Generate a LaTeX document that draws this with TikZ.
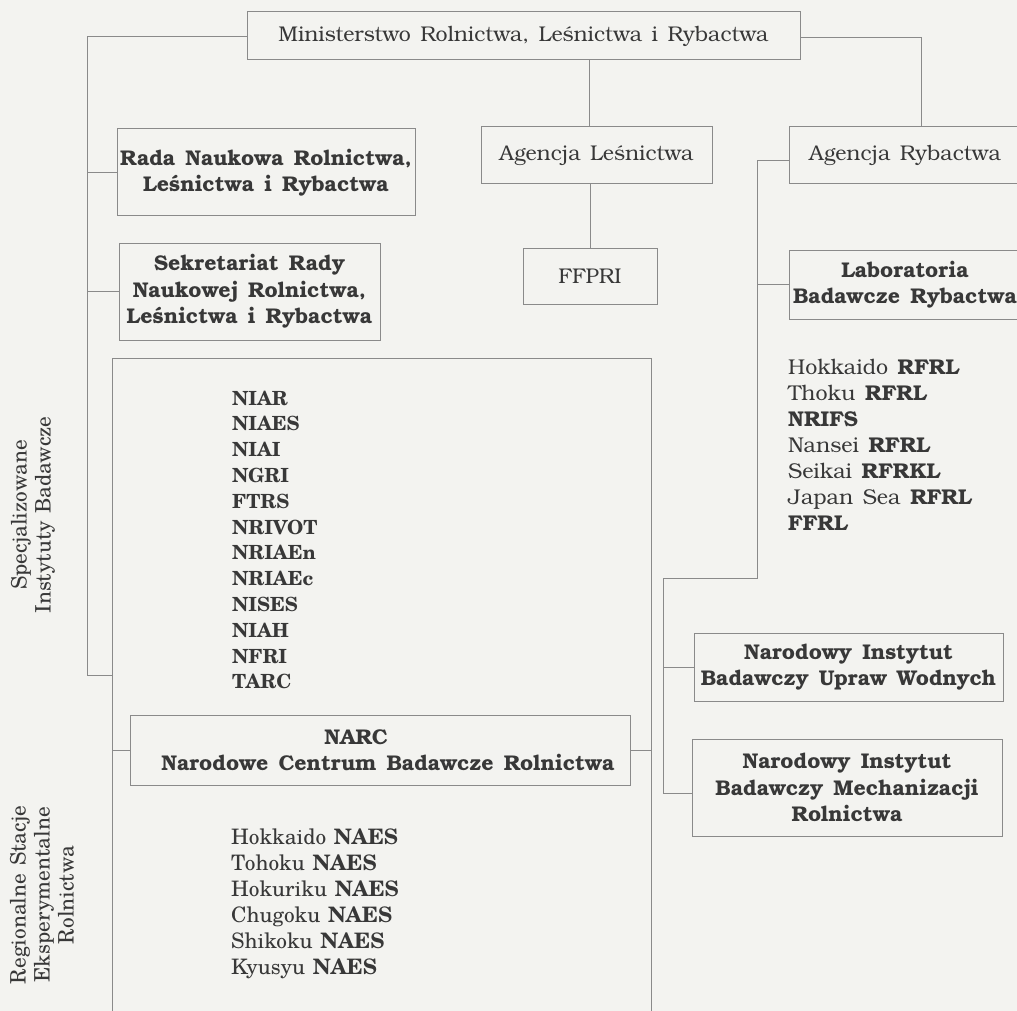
\documentclass[tikz,border=0pt]{standalone}
\usepackage{fontspec}
\setmainfont{texgyrebonum}[Extension=.otf, UprightFont=*-regular, BoldFont=*-bold, WordSpace=1.4]
\newfontfamily\schola{texgyreschola}[Extension=.otf, UprightFont=*-regular, BoldFont=*-bold, WordSpace=1.3]
\definecolor{ln}{HTML}{8A8A8A}
\definecolor{tx}{HTML}{383838}
\definecolor{bg}{HTML}{F3F3F0}
\begin{document}
\begin{tikzpicture}[x=1pt,y=-1pt,
  box/.style={draw=ln, line width=1pt, rectangle, inner sep=0pt, text=tx, align=center},
  regt/.style={font=\fontsize{21.3}{27}\selectfont},
  bldt/.style={font=\bfseries\fontsize{21.3}{26.5}\selectfont},
  conn/.style={draw=ln, line width=1pt},
  slist/.style={anchor=base west, inner sep=0pt, text=tx, font=\schola\bfseries\fontsize{19.5}{26}\selectfont},
  nlist/.style={anchor=base west, inner sep=0pt, text=tx, font=\schola\fontsize{21.3}{26}\selectfont},
  rlist/.style={anchor=base west, inner sep=0pt, text=tx, font=\fontsize{21.4}{26}\selectfont},
  rot/.style={rotate=90, align=center, inner sep=0pt, text=tx, font=\schola\fontsize{21.3}{24}\selectfont}]
\fill[bg] (0,0) rectangle (1017,1011);
\useasboundingbox (0,0) rectangle (1017,1011);
\clip (0,0) rectangle (1017,1011);

% boxes
\node[box, regt, minimum width=553pt, minimum height=48pt] (min) at (523.5,36) {\raisebox{-2pt}{Ministerstwo Rolnictwa, Leśnictwa i Rybactwa}};
\node[box, regt, minimum width=231pt, minimum height=57pt] (agL) at (596.5,155.5) {\raisebox{-1.5pt}{Agencja Leśnictwa}};
\node[box, regt, minimum width=134pt, minimum height=56pt] (ffpri) at (590,276) {FFPRI};
\node[box, regt, minimum width=232pt, minimum height=57pt] (agR) at (905,155.5) {\raisebox{-1.5pt}{Agencja Rybactwa}};
\node[box, bldt, minimum width=232pt, minimum height=69pt] (lab) at (905,284.5) {Laboratoria\\Badawcze Rybactwa};
\node[box, bldt, minimum width=298pt, minimum height=87pt] (rada) at (266,172.5) {Rada Naukowa Rolnictwa,\\Leśnictwa i Rybactwa};
\node[box, bldt, minimum width=261pt, minimum height=97pt] (sek) at (249.5,291.5) {Sekretariat Rady\\Naukowej Rolnictwa,\\Leśnictwa i Rybactwa};
\node[box, minimum width=539pt, minimum height=700pt, anchor=north west] (spec) at (112,358) {};
\node[box, bldt, minimum width=500pt, minimum height=70pt] (narc) at (380,750) {NARC\hspace*{48pt}\\\hspace*{16pt}Narodowe Centrum Badawcze Rolnictwa};
\node[box, bldt, minimum width=309pt, minimum height=68pt] (uw) at (848.5,667) {Narodowy Instytut\\Badawczy Upraw Wodnych};
\node[box, bldt, minimum width=310pt, minimum height=97pt] (mech) at (847,787.5) {Narodowy Instytut\\Badawczy Mechanizacji\\Rolnictwa};

% rotated labels
\node[rot] (lspec) at (33,515) {Specjalizowane\\Instytuty Badawcze};
\node[rot] (lreg) at (42,895) {Regionalne Stacje\\Eksperymentalne\\Rolnictwa};

% lists
\foreach \t [count=\i] in {NIAR,NIAES,NIAI,NGRI,FTRS,NRIVOT,NRIAEn,NRIAEc,NISES,NIAH,NFRI,TARC}
  \node[slist] (s\i) at (232,{405+(\i-1)*25.8}) {\t};
\foreach \t [count=\i] in {Hokkaido,Tohoku,Hokuriku,Chugoku,Shikoku,Kyusyu}
  \node[nlist] (n\i) at (231,{844+(\i-1)*26}) {\t{} \textbf{NAES}};
\node[rlist] (r1) at (788,374) {Hokkaido \textbf{RFRL}};
\node[rlist] (r2) at (788,400) {Thoku \textbf{RFRL}};
\node[rlist] (r3) at (788,426) {\textbf{NRIFS}};
\node[rlist] (r4) at (788,452) {Nansei \textbf{RFRL}};
\node[rlist] (r5) at (788,478) {Seikai \textbf{RFRKL}};
\node[rlist] (r6) at (788,504) {Japan Sea \textbf{RFRL}};
\node[rlist] (r7) at (788,530) {\textbf{FFRL}};

% connectors
\coordinate (L) at (87,37);
\coordinate (sb) at (112,675);
\draw[conn] (min.west |- L) -- (L) |- (sb);
\draw[conn] (rada.west) -- (rada.west -| L);
\draw[conn] (sek.west) -- (sek.west -| L);
\coordinate (m1) at (589,60);
\draw[conn] (m1) -- (m1 |- agL.north);
\draw[conn] (ffpri.north) -- (ffpri.north |- agL.south);
\coordinate (R) at (921,38);
\draw[conn] (min.east |- R) -- (R) -- (R |- agR.north);
\coordinate (V) at (757,161);
\coordinate (V2) at (757,578);
\coordinate (W) at (663,578);
\coordinate (W2) at (663,793);
\draw[conn] (agR.west |- V) -- (V) -- (V2) -- (W) -- (W2);
\draw[conn] (lab.west) -- (lab.west -| V);
\draw[conn] (uw.west) -- (uw.west -| W);
\draw[conn] (mech.west |- W2) -- (W2);
\draw[conn] (narc.west) -- (narc.west -| spec.west);
\draw[conn] (narc.east) -- (narc.east -| spec.east);
\end{tikzpicture}
\end{document}
